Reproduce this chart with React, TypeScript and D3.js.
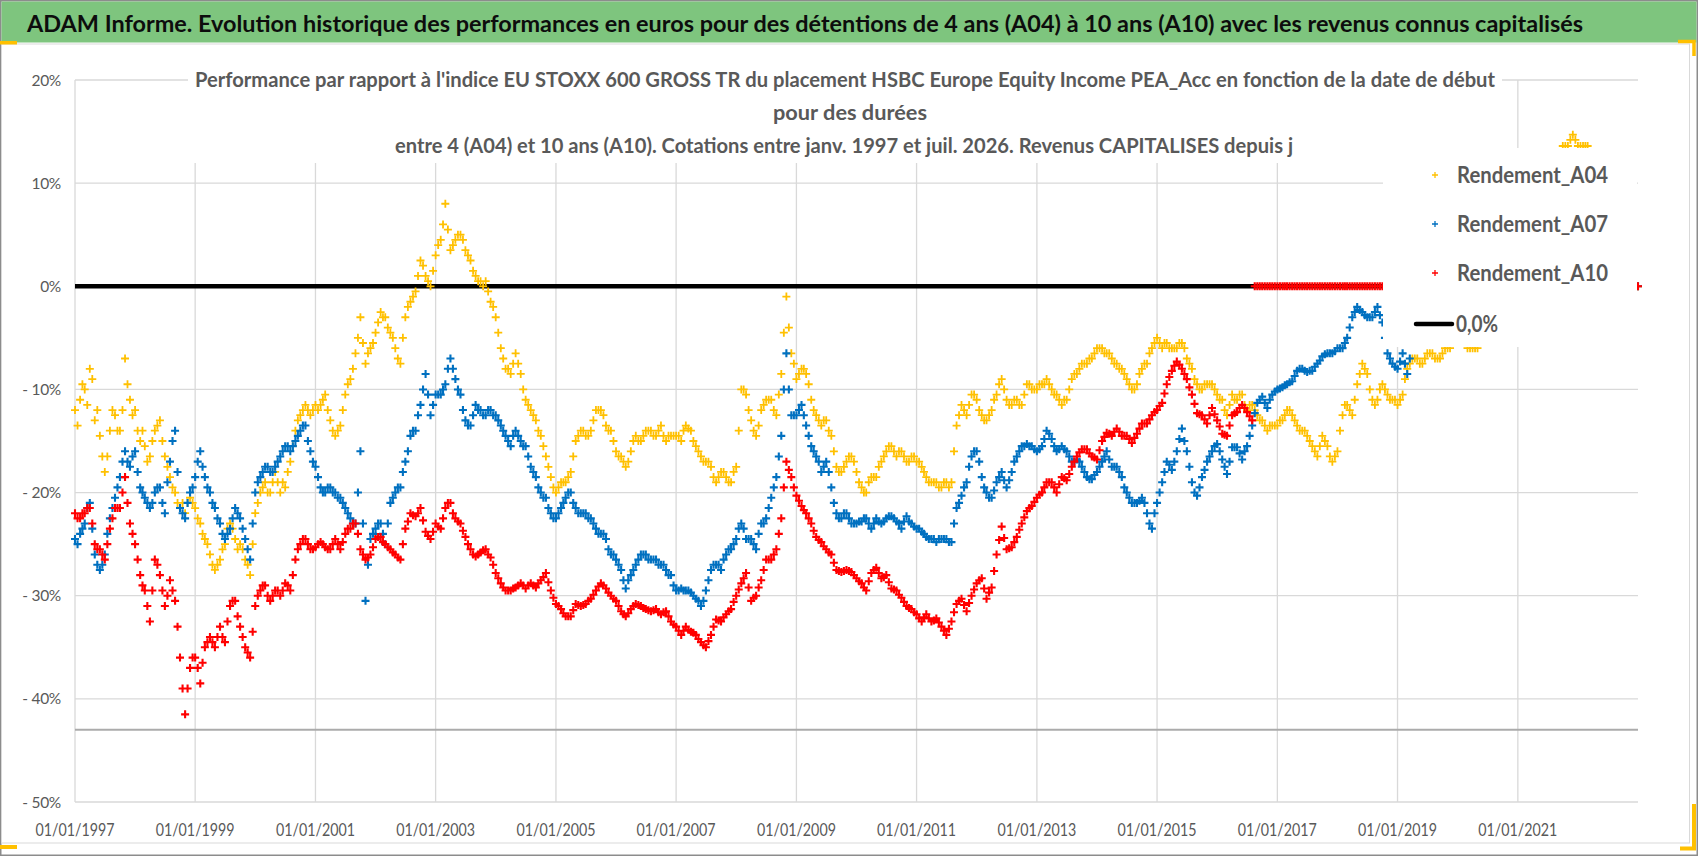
import * as d3 from 'd3';

// Readings (in %) taken off the scatter clouds, first value = 01/1997.
// One array per series at the start of each month, one at mid-month.
// After the last known start date the sheet reports 0.
const a04 = [
  -12, -11, -10, -8, -13, -14.5, -18, -14, -12.5, -14, -7, -11,
  -12, -15, -15.5, -16.5, -14, -13, -16.5, -18.5, -20, -21.5, -22, -20.5,
  -21.5, -23, -24.5, -26, -27.5, -26.5, -25, -23, -24.5, -25, -26.5, -28,
  -22, -20, -19, -20, -18, -20, -19.5, -17, -14, -12.5, -11.5, -12.5,
  -11.5, -11.5, -10.5, -13, -14.5, -13.5, -10.5, -9, -6.5, -3, -7.5, -6,
  -4.5, -2.5, -3, -4.5, -6, -7.5, -3, -1.5, -0.5, 2.5, 1, 0,
  3, 4.5, 8, 3.5, 4.5, 5, 3.5, 2.5, 1, 0.5, 0.5, -1.5,
  -3, -6, -8, -8.5, -6.5, -8.5, -11, -12, -13, -14.5, -16.5, -18.5,
  -20, -19, -19, -18, -15, -14, -14.5, -14, -12, -12, -13.5, -14,
  -16, -16.5, -17.5, -16, -14.5, -15, -14, -14, -14.5, -13.5, -15, -14.5,
  -14.5, -15, -13.5, -14, -15.5, -16.5, -17, -17.5, -19, -18, -18.5, -19,
  -17.5, -10, -10.5, -13, -14.5, -12, -11, -11, -12.5, -8.5, -1, -6.5,
  -9, -8, -8.5, -11, -12.5, -13.5, -13, -14.5, -17.5, -18, -17, -16.5,
  -18, -19.5, -20, -18.5, -18.5, -17, -16, -15.5, -16.5, -16, -17, -16.5,
  -17, -17.5, -18.5, -19, -19, -19.5, -19, -19, -13.5, -11.5, -12.5, -10.5,
  -11, -12.5, -13, -12, -10.5, -9, -11, -11.5, -11, -11.5, -9.5, -10,
  -10, -9.5, -9, -10, -10.5, -11.5, -11, -9, -8.5, -7.5, -7.5, -7,
  -6, -6, -6.5, -7, -7.5, -8, -9, -10, -9.5, -8, -7.5, -6,
  -5, -6, -5.5, -6, -6, -5.5, -7, -8, -9.5, -10, -9.5, -9.5,
  -10.5, -11, -12.5, -10.5, -11, -10.5, -12, -11.5, -12.5, -13, -14, -13.5,
  -13.5, -13, -12, -12.5, -13.5, -14, -14.5, -15.5, -16.5, -14.5, -15.5, -17,
  -16, -12.5, -11.5, -12.5, -9.5, -7.5, -8.5, -11, -11, -9.5, -10.5, -11,
  -11.5, -10.5, -8, -7, -7, -7.5, -6.5, -6.5, -7, -6.5, -6, -5.5,
  -5, -5, -6, -6, -6, -4.5, -3, -2, -1, 0, 1, 2,
  3, 4, 5, 6, 7, 8, 9, 10, 11.5, 13.6, 13.6, 14.7,
  13.6, 13.6, 13.6, 12, 11, 10, 9, 0, 0, 0, 0, 0,
  0,
];
const a04Mid = [
  -13.5, -9.5, -11.5, -9, -12, -16.5, -16.5, -12, -14, -12, -9.5, -12.5,
  -14, -14, -17, -15, -13.5, -15, -17.5, -19.5, -21, -21, -21, -21,
  -22.5, -24, -25, -27, -27, -25.5, -23.5, -23.5, -25.5, -25.5, -27, -25,
  -21, -19.5, -20, -19, -19, -19, -18, -15.5, -13, -12, -12, -12,
  -12, -11, -12, -14, -14, -12, -9.5, -8, -5, -5.5, -6.5, -5.5,
  -3.5, -3, -4, -5, -7, -5, -2, -1, 1, 2, 0.5, 1.5,
  4, 6, 5.5, 4, 5, 4.5, 3, 1.5, 0.5, 0, -0.5, -2,
  -4.5, -7, -8, -7.5, -7.5, -10, -11.5, -12.5, -14, -15.5, -17.5, -19.5,
  -19.5, -19, -18.5, -16.5, -14.5, -14, -14.5, -13, -12, -12.5, -14, -15,
  -16.5, -17, -17, -15, -15, -14.5, -14, -14.5, -14, -14.5, -14.5, -14.5,
  -14.5, -14, -13.8, -15, -16, -17, -17, -18.5, -18.5, -18, -19, -18,
  -14, -10, -12, -14, -13.5, -11.5, -11, -12, -10.5, -4.5, -4, -7.5,
  -8.5, -8, -9.5, -12, -13, -13, -14, -16, -18, -17.5, -16.5, -17,
  -19, -20, -19, -18.5, -17.5, -16.5, -15.5, -16, -16, -16.5, -17, -16.5,
  -17, -18, -19, -19, -19.5, -19, -19.5, -16, -12.5, -12, -11.5, -10.5,
  -12, -13, -12.5, -11, -9.5, -10, -11.5, -11, -11.5, -10.5, -9.5, -10,
  -9.5, -9.5, -9.5, -10.5, -11, -11, -10, -8.5, -8, -7.5, -7, -6.5,
  -6, -6.5, -6.5, -7.5, -8, -8.5, -9.5, -10, -8.5, -7.5, -6.5, -5.5,
  -5.5, -5.5, -6, -6, -5.5, -6, -7.5, -9, -10, -9.5, -9.5, -10,
  -11, -12, -11.5, -11, -10.5, -11.5, -11.5, -12, -13, -13.5, -13.5, -13.5,
  -13, -12.5, -12, -13, -14, -14, -15, -16, -15.5, -15, -16.5, -16.5,
  -14, -11.5, -12, -11, -8.5, -8, -10, -11.5, -10, -10, -11, -11,
  -11, -9, -7.5, -7, -7.5, -7, -6.5, -7, -7, -6, -6, -5.5,
  -5, -5.5, -6, -6, -5.5, -3.5, -2.5, -1.5, -0.5, 0.5, 1.5, 2.5,
  3.5, 4.5, 5.5, 6.5, 7.5, 8.5, 9.5, 11, 12.5, 13.6, 14.2, 14.2,
  13.6, 13.6, 12.5, 11.5, 10.5, 9.5,
];

const a07 = [
  -24.5, -24, -23, -21, -26, -27.5, -26, -22.5, -20.5, -18.5, -16, -17.5,
  -16, -19.5, -20.5, -21.5, -20, -19.5, -22, -17, -14, -21.5, -22.5, -20,
  -18.5, -16, -18.5, -20, -21.5, -23, -24.5, -23.5, -21.5, -22.5, -24.5, -26.5,
  -20, -18.5, -17.5, -18, -17.5, -16.5, -15.5, -16, -15, -14, -13.5, -16,
  -17.5, -19.5, -20, -19.5, -20, -20.5, -21.5, -22.5, -23, -16, -30.5, -24.5,
  -23.5, -23, -25, -21, -20, -19.5, -17, -14.5, -14, -11.5, -8.5, -12.5,
  -10.5, -10.5, -9.5, -7, -9, -10.5, -13, -13.5, -11.5, -12, -12.5, -12,
  -12.5, -13.5, -14.5, -15.5, -14, -15, -15.5, -17.5, -18.5, -20, -20.5, -22,
  -22.5, -21.5, -20.5, -20, -21.5, -22, -22, -22.5, -23.5, -24, -24.5, -26,
  -26.5, -27.5, -29.3, -28, -27, -26, -26, -26.5, -26.5, -27, -27.5, -28,
  -29.5, -29.3, -29.5, -29.7, -30.3, -31, -29.5, -27.5, -27, -27.5, -26, -25.5,
  -24.5, -23, -24.5, -24.5, -25.5, -23, -22.5, -20.5, -18.5, -14.5, -6.5, -12.5,
  -12.5, -11.5, -13.5, -15.5, -16.5, -18, -17, -19.5, -22, -22.5, -22, -23,
  -23, -22.8, -22.5, -23.5, -22.5, -23, -22.5, -22.3, -22.8, -23.5, -22.3, -23,
  -23.5, -23.8, -24.3, -24.5, -24.8, -24.5, -24.5, -24.8, -21.5, -20.3, -19, -16.5,
  -16, -18.5, -20, -20.5, -19, -18, -19.5, -18, -16.5, -15.5, -15.3, -15.5,
  -16, -15.5, -14, -14.8, -16, -15.5, -16, -17, -16.8, -17.5, -18.5, -18.7,
  -18, -17, -16, -17.5, -17.5, -18.5, -20, -21, -21, -20.5, -22, -23.5,
  -21, -19, -17, -17.8, -16, -13.8, -16, -19, -20.3, -18.5, -17, -16,
  -15.3, -16.8, -18.2, -15.6, -15.6, -16.8, -15.5, -13.5, -11.3, -10.7, -11.8, -10.5,
  -10, -9.8, -9.5, -9.2, -8.2, -8, -8.3, -8.2, -7.5, -6.8, -6.5, -6.5,
  -6, -6, -5, -3, -2, -2.5, -3, -3, -2, -3.5, -6.5, -7.5,
  -8, -6.5, -8.5, -5.5, -5, -5, 0, 0, 0, 0, 0, 0,
  0, 0, 0, 0, 0, 0, 0, 0, 0, 0, 0, 0,
  0, 0, 0, 0, 0, 0, 0, 0, 0, 0, 0, 0,
  0, 0, 0, 0, 0, 0, 0, 0, 0, 0, 0, 0,
  0,
];
const a07Mid = [
  -25, -23.5, -21.5, -23.5, -27, -27, -24, -21.5, -19.5, -17, -17, -16.5,
  -18, -20, -21, -21, -19.5, -21, -19, -15, -18, -22, -21, -19.5,
  -17, -17.5, -19.5, -21, -22.5, -24, -24, -22.5, -22, -23.5, -25.5, -23,
  -19, -18, -17.5, -18, -17, -16, -15.5, -15.5, -14.5, -13.5, -15, -17,
  -18.5, -20, -19.5, -20, -20.5, -21, -22, -23, -20, -23, -27, -24,
  -23, -24, -23, -20.5, -19.5, -18, -16, -14, -12.5, -10, -10.5, -11.5,
  -10.5, -10, -8, -8, -10, -12, -13.5, -12.5, -12, -12.5, -12, -12.5,
  -13, -14, -15, -14.5, -14.5, -15.5, -16.5, -18, -19.5, -20.5, -21.5, -22.5,
  -22, -21, -20, -21, -22, -22, -22.5, -23, -24, -24, -25.5, -26,
  -27, -28.5, -28.5, -27.5, -26.5, -26, -26.5, -26.5, -27, -27, -28, -29,
  -29.5, -29.5, -29.5, -30, -30.5, -30.5, -28.5, -27, -27, -26.5, -25.5, -25,
  -23.5, -23.5, -24.5, -25, -24, -23, -21.5, -19.5, -16.5, -10, -10, -12.5,
  -12, -12.5, -14.5, -16, -17, -17.5, -18, -21, -22.5, -22, -22.5, -23,
  -22.8, -22.5, -23, -23, -22.8, -22.8, -22.3, -22.5, -23, -22.8, -22.8, -23.3,
  -23.5, -24, -24.5, -24.5, -24.5, -24.5, -24.8, -23, -21, -19.5, -17.5, -16,
  -17, -19.5, -20.5, -19.8, -18.5, -18.8, -18.8, -17, -16, -15.5, -15.5, -15.8,
  -15.8, -14.8, -14.3, -15.5, -15.8, -15.8, -16.5, -17, -17, -18, -18.7, -18.3,
  -17.5, -16.5, -16.8, -17.5, -18, -19.5, -20.5, -21, -20.8, -21, -23, -22,
  -20, -18, -17.3, -17, -14.8, -15, -17.5, -20, -19.5, -17.8, -16.5, -15.5,
  -16, -17.5, -17, -15.6, -16.2, -16, -14.5, -12.3, -11, -11.3, -11, -10.2,
  -9.9, -9.6, -9.3, -8.7, -8, -8.2, -8.2, -7.8, -7.2, -6.6, -6.5, -6.3,
  -6, -5.5, -4, -2.5, -2.3, -2.8, -3, -2.5, -2.8, -5, -7, -7.8,
  -7.3, -7.5, -7, -5.3, -5,
];

const a10 = [
  -22, -22.5, -22, -21.5, -25, -25.5, -26.5, -23.5, -21.5, -21.5, -18.5, -23,
  -25, -28, -29.5, -32.5, -26.5, -28, -31, -28.5, -30.5, -36, -41.5, -37,
  -36, -38.5, -35, -34, -35, -33, -34.5, -31, -30.5, -33, -35, -36,
  -31, -29.5, -29, -30.5, -29.5, -30, -28.8, -29.5, -26.5, -25, -24.5, -25.5,
  -25.3, -24.8, -25.3, -25.5, -24.5, -25.5, -24, -23.5, -23, -25.5, -26.5, -26,
  -24.5, -24.3, -25, -25.5, -26, -26.5, -23.5, -22, -22.3, -21.5, -23.8, -24.5,
  -23, -23.5, -21.5, -21, -22.5, -23, -24.3, -25.5, -26.2, -25.8, -25.5, -26.3,
  -27.8, -28.8, -29.5, -29.5, -29.2, -28.8, -29.3, -28.8, -29.2, -28.5, -27.8, -29.5,
  -30.8, -31.3, -32, -32, -30.8, -31, -30.8, -30.3, -29.5, -28.8, -29.3, -30,
  -30.5, -31.5, -32, -31.3, -30.8, -31, -31.3, -31.5, -31.3, -31.8, -31.5, -32.5,
  -33, -33.8, -33, -33.5, -33.8, -34.5, -35, -33.8, -32.3, -32.5, -31.8, -31.3,
  -30, -28.8, -27.8, -30.5, -30, -28.5, -26.5, -26.5, -25.5, -22.5, -17, -18.5,
  -20.3, -21.3, -22, -23, -24.3, -24.8, -25.5, -26, -27.5, -27.7, -27.5, -27.7,
  -28.3, -28.8, -29.5, -27.8, -27.3, -28.3, -28, -29.3, -29.5, -30.2, -31, -31.3,
  -31.8, -32.5, -31.8, -32.5, -32.2, -33, -33.8, -32.5, -30.8, -30.3, -31.5, -30,
  -28.8, -28.3, -30.3, -29.2, -26, -23.3, -25.5, -25.3, -24.3, -23, -21.8, -21.3,
  -20.5, -20, -19, -19, -20, -18.5, -18.8, -17.5, -16.5, -15.8, -15.8, -16.5,
  -16.8, -15, -14.2, -14.5, -13.8, -14.5, -14.5, -15.2, -14.3, -13.3, -13.3, -12.5,
  -12, -11.3, -9.5, -8.2, -7.3, -8, -9, -10.5, -12.3, -12.5, -13.3, -11.8,
  -13, -14.3, -14.5, -12.5, -12.2, -11.5, -12.2, -13, 0, 0, 0, 0,
  0, 0, 0, 0, 0, 0, 0, 0, 0, 0, 0, 0,
  0, 0, 0, 0, 0, 0, 0, 0, 0, 0, 0, 0,
  0, 0, 0, 0, 0, 0, 0, 0, 0, 0, 0, 0,
  0, 0, 0, 0, 0, 0, 0, 0, 0, 0, 0, 0,
  0, 0, 0, 0, 0, 0, 0, 0, 0, 0, 0, 0,
  0, 0, 0, 0, 0, 0, 0, 0, 0, 0, 0, 0,
  0,
];
const a10Mid = [
  -22.5, -22, -21.5, -23, -25.5, -26, -25, -22.5, -21.5, -20, -21, -24,
  -26.5, -29, -31, -29.5, -27, -29.5, -30, -29.5, -33, -39, -39, -36,
  -37, -36.5, -34.5, -34.5, -34, -34, -32.5, -30.5, -32, -34, -35.5, -33.5,
  -30, -29, -30, -30, -29.5, -29.5, -29, -28, -25.5, -24.5, -25, -25.5,
  -25, -25, -25.5, -25, -25, -24.8, -23.5, -23, -24, -26, -26.3, -25.3,
  -24.3, -24.8, -25.3, -25.8, -26.3, -25, -22.8, -22.2, -22, -22.7, -24.2, -23.8,
  -23.3, -22.5, -21, -22, -22.8, -23.7, -25, -26, -26, -25.6, -26, -27,
  -28.3, -29.2, -29.5, -29.3, -29, -29, -29, -29, -28.8, -28.2, -28.7, -30.2,
  -31, -31.7, -32, -31.4, -30.9, -30.9, -30.5, -29.9, -29.1, -29, -29.7, -30.3,
  -31, -31.8, -31.7, -31, -30.9, -31.2, -31.4, -31.4, -31.6, -31.6, -32, -32.8,
  -33.4, -33.4, -33.3, -33.6, -34.2, -34.8, -34.4, -33, -32.4, -32.1, -31.5, -30.6,
  -29.4, -28.3, -29.2, -30.2, -29.2, -27.5, -26.5, -26, -24, -19.5, -17.8, -19.5,
  -20.8, -21.7, -22.5, -23.7, -24.6, -25.2, -25.8, -26.8, -27.6, -27.6, -27.6, -28,
  -28.6, -29.2, -28.6, -27.5, -27.8, -28.2, -28.7, -29.4, -29.9, -30.6, -31.2, -31.6,
  -32.2, -32.1, -32.2, -32.4, -32.6, -33.4, -33.2, -31.6, -30.5, -30.9, -30.7, -29.4,
  -28.5, -29.3, -29.7, -27.6, -24.6, -24.4, -25.4, -24.8, -23.6, -22.4, -21.5, -20.9,
  -20.2, -19.5, -19, -19.5, -19.2, -18.6, -18.2, -17, -16.1, -15.8, -16.2, -16.6,
  -15.9, -14.6, -14.3, -14.1, -14.1, -14.5, -14.8, -14.7, -13.8, -13.3, -12.9, -12.2,
  -11.6, -10.4, -8.8, -7.7, -7.6, -8.5, -9.8, -11.4, -12.4, -12.9, -12.5, -12.4,
  -13.6, -14.4, -13.5, -12.3, -11.8, -11.8, -12.6, 0, 0, 0, 0, 0,
  0, 0, 0, 0, 0, 0, 0, 0, 0, 0, 0, 0,
  0, 0, 0, 0, 0, 0, 0, 0, 0, 0, 0, 0,
  0, 0, 0, 0, 0, 0, 0, 0, 0, 0, 0, 0,
  0, 0, 0, 0, 0, 0, 0, 0, 0, 0, 0, 0,
  0, 0, 0, 0, 0, 0, 0, 0, 0, 0, 0, 0,
  0, 0, 0, 0, 0, 0, 0, 0, 0, 0, 0, 0,
];

const xTickYears = [1997, 1999, 2001, 2003, 2005, 2007, 2009, 2011, 2013, 2015, 2017, 2019, 2021];
const yTicks = [20, 10, 0, -10, -20, -30, -40, -50];
const axisCross = -43;
const zeroLabel = '0,0%';

const title =
  'ADAM Informe. Evolution historique des performances en euros pour des détentions de 4 ans (A04) à 10 ans (A10) avec les revenus connus capitalisés';
const subtitle = [
  "Performance par rapport à l'indice EU STOXX 600 GROSS TR  du placement HSBC Europe Equity Income PEA_Acc en fonction de la date de début",
  'pour des durées',
  'entre 4 (A04) et 10 ans (A10). Cotations entre janv. 1997 et juil. 2026. Revenus CAPITALISES depuis j',
];

const series = [
  { name: 'Rendement_A04', color: '#FFC000', values: a04, mid: a04Mid, sw: 1.8 },
  { name: 'Rendement_A07', color: '#0070C0', values: a07, mid: a07Mid, sw: 2.1 },
  { name: 'Rendement_A10', color: '#FF0000', values: a10, mid: a10Mid, sw: 2.1 },
];

const font = 'Lato, "Open Sans", sans-serif';
const grey = '#595959';

export default function App() {
  const width = 1698;
  const height = 856;
  const marginLeft = 75;
  const plotRight = 1638;
  const plotTop = 80;
  const plotBottom = 802;

  const start = new Date(1997, 0, 1);
  const x = d3.scaleTime([start, new Date(2023, 0, 1)], [marginLeft, plotRight]);
  const y = d3.scaleLinear([-50, 20], [plotBottom, plotTop]);

  const monthX = (i: number) => x(d3.timeMonth.offset(start, i));

  // "+" markers, offset = 0 for start of month, 0.5 for mid-month
  const crosses = (vals: number[], offset: number, s: number) =>
    vals
      .map((v, i) => {
        const px = offset ? (monthX(i) + monthX(i + 1)) / 2 : monthX(i);
        const py = y(v);
        return `M${px - s},${py}h${2 * s}M${px},${py - s}v${2 * s}`;
      })
      .join('');

  const yLabel = (v: number) => (v < 0 ? `- ${-v}%` : `${v}%`);

  return (
    <svg
      width={width}
      height={height}
      viewBox={`0 0 ${width} ${height}`}
      style={{ position: 'absolute', left: 0, top: 0, background: '#fff' }}
    >
      {/* frame */}
      <rect x={0.75} y={0.75} width={width - 1.5} height={height - 1.5} fill="#fff" stroke="#8c8c8c" strokeWidth={1.5} />
      <rect x={1.5} y={44} width={1688} height={799} fill="#fff" stroke="#d9d9d9" strokeWidth={1} />

      {/* title bar */}
      <rect x={1.5} y={1.5} width={width - 3} height={41} fill="#7ec57e" />
      <text
        x={27}
        y={32}
        fontFamily={font}
        fontWeight="bold"
        fontSize={23}
        fill="#0d0d0d"
        textLength={1556}
        lengthAdjust="spacingAndGlyphs"
      >
        {title}
      </text>

      {/* orange selection marks */}
      <rect x={0} y={41} width={17} height={3.5} fill="#FFC000" />
      <path d="M1678,41.5H1694V56" fill="none" stroke="#FFC000" strokeWidth={3.5} />
      <path d="M1694,804V848.5H1680" fill="none" stroke="#FFC000" strokeWidth={4} />
      <rect x={0} y={845} width={17} height={4} fill="#FFC000" />

      {/* gridlines */}
      <g stroke="#d9d9d9" strokeWidth={1.3}>
        {yTicks.map((t) => (
          <line key={t} x1={marginLeft} x2={plotRight} y1={y(t)} y2={y(t)} />
        ))}
        {xTickYears.map((yr) => {
          const px = x(new Date(yr, 0, 1));
          return <line key={yr} x1={px} x2={px} y1={plotTop} y2={plotBottom} />;
        })}
      </g>

      {/* chart title box */}
      <rect x={188} y={62} width={1314} height={101} fill="#fff" />
      <g fontFamily={font} fontWeight="bold" fill={grey} fontSize={21} textAnchor="middle" style={{ whiteSpace: 'pre' }}>
        <text x={845} y={87} textLength={1300} lengthAdjust="spacingAndGlyphs">
          {subtitle[0]}
        </text>
        <text x={850} y={120} textLength={154} lengthAdjust="spacingAndGlyphs">
          {subtitle[1]}
        </text>
        <text x={844} y={153} textLength={898} lengthAdjust="spacingAndGlyphs">
          {subtitle[2]}
        </text>
      </g>

      {/* y axis labels */}
      <g fontFamily={font} fontSize={15.5} fill={grey} textAnchor="end" letterSpacing={-0.3}>
        {yTicks.map((t) => (
          <text key={t} x={61} y={y(t)} dy="0.36em">
            {yLabel(t)}
          </text>
        ))}
      </g>

      {/* x axis labels */}
      <g fontFamily={font} fontSize={16.5} fill={grey} textAnchor="middle">
        {xTickYears.map((yr) => (
          <text key={yr} x={x(new Date(yr, 0, 1))} y={836} textLength={79} lengthAdjust="spacingAndGlyphs">
            {`01/01/${yr}`}
          </text>
        ))}
      </g>

      {/* horizontal axis crossing line */}
      <line x1={marginLeft} x2={plotRight} y1={y(axisCross)} y2={y(axisCross)} stroke="#ababab" strokeWidth={2} />

      {/* 0,0% reference line */}
      <line x1={marginLeft} x2={plotRight} y1={y(0)} y2={y(0)} stroke="#000" strokeWidth={4.5} />

      {/* series */}
      {series.map((s) => (
        <path
          key={s.name}
          d={crosses(s.values, 0, 4) + crosses(s.mid, 0.5, 4)}
          fill="none"
          stroke={s.color}
          strokeWidth={s.sw}
        />
      ))}

      {/* legend */}
      <rect x={1383} y={148} width={254} height={199} fill="#fff" />
      <g fontFamily={font} fontWeight="bold" fontSize={23} fill={grey}>
        {series.map((s, i) => {
          const by = 183 + i * 49;
          return (
            <g key={s.name}>
              <path d={`M1432,${by - 8}h6M1435,${by - 11}v6`} stroke={s.color} strokeWidth={1.3} />
              <text x={1457} y={by} textLength={151} lengthAdjust="spacingAndGlyphs">
                {s.name}
              </text>
            </g>
          );
        })}
        <line x1={1416} x2={1452} y1={324} y2={324} stroke="#000" strokeWidth={4.5} strokeLinecap="round" />
        <text x={1456} y={332} textLength={42} lengthAdjust="spacingAndGlyphs">
          {zeroLabel}
        </text>
      </g>
    </svg>
  );
}
